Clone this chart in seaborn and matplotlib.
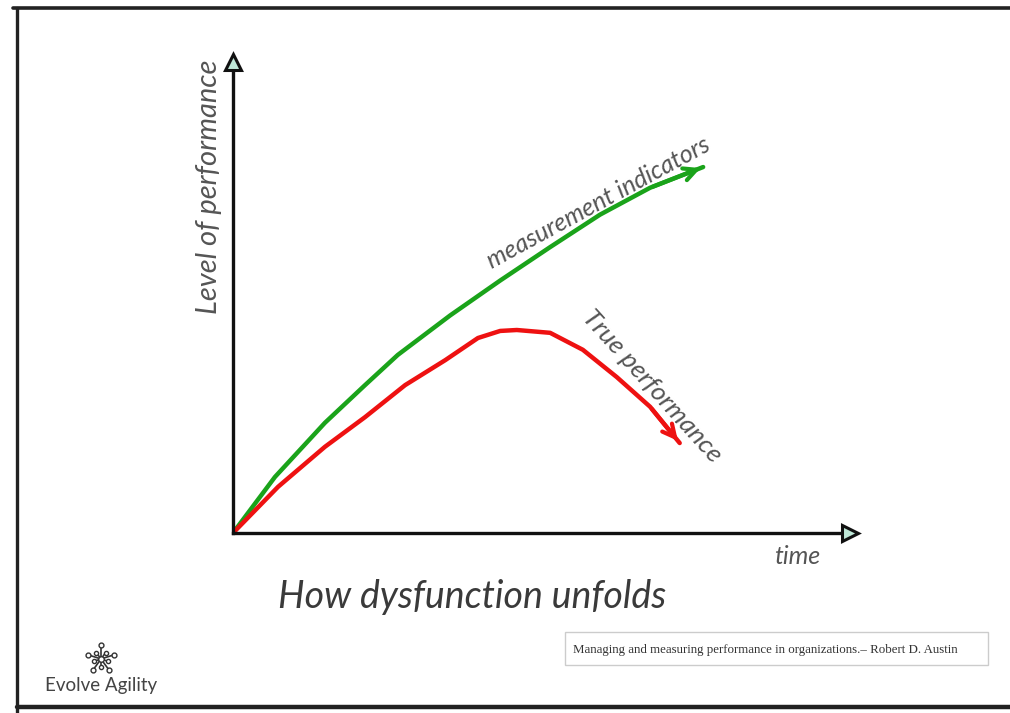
import numpy as np
import pandas as pd
import matplotlib
matplotlib.use("Agg")
import matplotlib.pyplot as plt
import seaborn as sns
from matplotlib.lines import Line2D
from matplotlib.patches import Rectangle

# ---- data (time vs level of performance, arbitrary units) ----
time_measured = [0, 0.68, 1.49, 2.14, 2.67, 3.52, 4.33, 5.14, 5.95, 6.76, 7.62]
measured = [0, 1.19, 2.34, 3.14, 3.78, 4.62, 5.36, 6.07, 6.76, 7.33, 7.77]
time_true = [0, 0.73, 1.49, 2.14, 2.79, 3.44, 3.97, 4.33, 4.60, 5.14, 5.67, 6.22, 6.76, 7.24]
true_perf = [0, 0.98, 1.83, 2.46, 3.14, 3.67, 4.14, 4.29, 4.31, 4.25, 3.89, 3.31, 2.68, 1.91]

title = "How dysfunction unfolds"
ylabel = "Level of performance"
xlabel = "time"
label_measured = "measurement indicators"
label_true = "True performance"
citation = "Managing and measuring performance in organizations.– Robert D. Austin"
logo_text = "Evolve Agility"

sns.set_style("white")
plt.rcParams['font.family'] = ['Lato', 'DejaVu Sans']

W, H = 1010, 713
fig = plt.figure(figsize=(W / 100, H / 100), dpi=100)
fig.patch.set_facecolor("white")

# frame lines
fig.add_artist(Line2D([13 / W, 1.0], [1 - 8 / H, 1 - 8 / H], color="#222222", lw=2.6))
fig.add_artist(Line2D([17 / W, 17 / W], [1 - 8 / H, 0], color="#222222", lw=2.4))
fig.add_artist(Line2D([17 / W, 1.0], [1 - 707 / H, 1 - 707 / H], color="#222222", lw=3.2))

ax = fig.add_axes([233 / W, (H - 533) / H, 617 / W, 471 / H])
ax.set_xlim(0, 10)
ax.set_ylim(0, 10)

df_m = pd.DataFrame({"time": time_measured, "perf": measured})
df_t = pd.DataFrame({"time": time_true, "perf": true_perf})
sns.lineplot(data=df_m, x="time", y="perf", ax=ax, color="#1aa31a", lw=3.2,
             sort=False, solid_capstyle="round", solid_joinstyle="round")
sns.lineplot(data=df_t, x="time", y="perf", ax=ax, color="#ee1111", lw=3.2,
             sort=False, solid_capstyle="round", solid_joinstyle="round")

# arrowheads
ax.annotate("", xy=(time_measured[-1], measured[-1]),
            xytext=(time_measured[-2], measured[-2]),
            arrowprops=dict(arrowstyle="->,head_length=0.9,head_width=0.45",
                            color="#1aa31a", lw=3.0))
ax.annotate("", xy=(time_true[-1], true_perf[-1]),
            xytext=(time_true[-2], true_perf[-2]),
            arrowprops=dict(arrowstyle="->,head_length=0.9,head_width=0.45",
                            color="#ee1111", lw=3.0))

for s in ["top", "right"]:
    ax.spines[s].set_visible(False)
for s in ["left", "bottom"]:
    ax.spines[s].set_color("#111111")
    ax.spines[s].set_linewidth(2.4)
ax.set_xticks([])
ax.set_yticks([])
ax.set_xlabel("")
ax.set_ylabel("")
ax.patch.set_alpha(0)

# axis arrow triangles
ax.plot([0], [10], marker="^", ms=11, mfc="#bfe8d8", mec="#111111", mew=2.2,
        clip_on=False, zorder=10)
ax.plot([10], [0], marker=">", ms=11, mfc="#bfe8d8", mec="#111111", mew=2.2,
        clip_on=False, zorder=10)

hand = dict(color="#555555", style="italic")
fig.text(209 / W, 1 - 187 / H, ylabel, rotation=90, ha="center", va="center", fontsize=21, **hand)
fig.text(598 / W, 1 - 203 / H, label_measured, rotation=28.5, ha="center", va="center",
         fontsize=18, **hand)
fig.text(652 / W, 1 - 386 / H, label_true, rotation=-48, ha="center", va="center",
         fontsize=19, **hand)
fig.text(797 / W, 1 - 556 / H, xlabel, ha="center", va="center", fontsize=18, **hand)
fig.text(472 / W, 1 - 597 / H, title, ha="center", va="center", fontsize=27,
         color="#3a3a3a", style="italic")

# citation box
fig.add_artist(Rectangle((565 / W, 1 - 665 / H), 423 / W, 33 / H, fill=False,
                         ec="#cccccc", lw=1.0, transform=fig.transFigure))
fig.text(573 / W, 1 - 650 / H, citation, ha="left", va="center", fontsize=9.25,
         family="Liberation Serif", color="#333333")

# logo
fig.text(101 / W, 1 - 686 / H, logo_text, ha="center", va="center", fontsize=13.5,
         color="#444444")
lax = fig.add_axes([84 / W, 1 - 676 / H, 34 / W, 34 / H])
lax.set_xlim(-1.2, 1.2)
lax.set_ylim(-1.2, 1.2)
lax.axis("off")
angles = np.deg2rad([90, 18, -54, -126, 162])
for a in angles:
    lax.plot([0, np.cos(a)], [0, np.sin(a)], color="#333333", lw=1.2)
    lax.plot([np.cos(a)], [np.sin(a)], "o", ms=3.5, mfc="white", mec="#333333", mew=1)
for a in angles + np.deg2rad(36):
    lax.plot([0, 0.55 * np.cos(a)], [0, 0.55 * np.sin(a)], color="#333333", lw=1.2)
    lax.plot([0.55 * np.cos(a)], [0.55 * np.sin(a)], "o", ms=3, mfc="white", mec="#333333", mew=1)
lax.plot([0], [0], "o", ms=4, mfc="white", mec="#333333", mew=1)

fig.savefig("out.png", dpi=100)
